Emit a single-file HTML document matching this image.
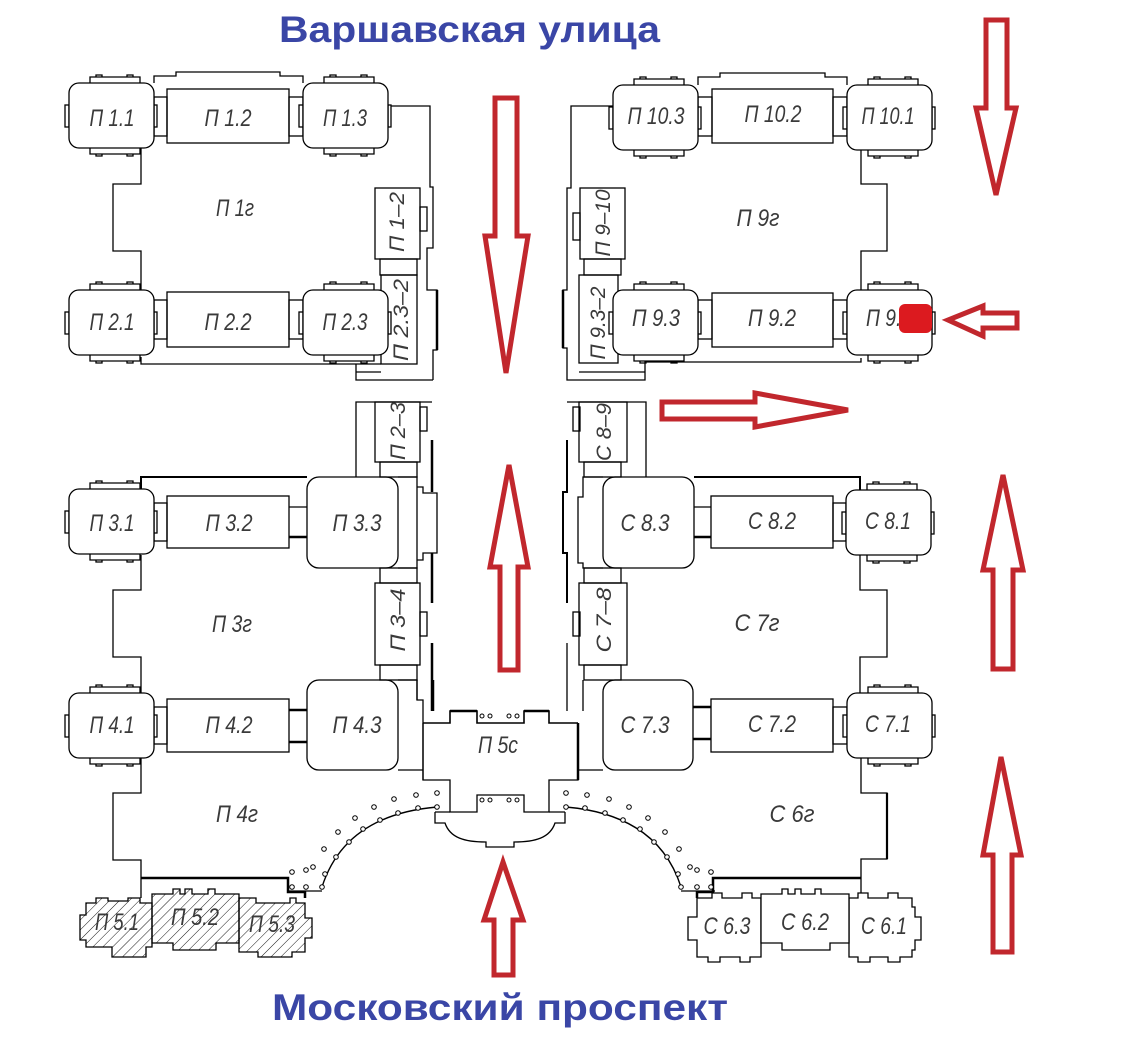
<!DOCTYPE html>
<html><head><meta charset="utf-8">
<style>
html,body{margin:0;padding:0;background:#fff;}
svg{display:block;}
.l{font-family:"Liberation Sans",sans-serif;font-style:italic;font-size:24px;fill:#3a3a3a;}
.r{font-family:"Liberation Sans",sans-serif;font-style:italic;font-size:21px;fill:#3a3a3a;}
.t{font-family:"Liberation Sans","Noto Sans CJK SC",sans-serif;font-weight:bold;fill:#3a46a6;}
</style></head><body>
<svg width="1139" height="1059" viewBox="0 0 1139 1059" xmlns="http://www.w3.org/2000/svg">
<defs>
<pattern id="hatch" width="7" height="7" patternUnits="userSpaceOnUse" patternTransform="rotate(45)">
 <line x1="0" y1="0" x2="0" y2="7" stroke="#000" stroke-width="0.9"/>
</pattern>
<g id="cb" fill="#fff" stroke="#000" stroke-width="1.3">
 <path d="M21,0 V-6 H71 V0" fill="none"/>
 <path d="M27,-6 V-8 H33 V-6 M58,-6 V-8 H64 V-6" fill="none"/>
 <path d="M21,65 V71 H71 V65" fill="none"/>
 <path d="M27,71 V73 H33 V71 M58,71 V73 H64 V71" fill="none"/>
 <rect x="-4" y="22" width="4" height="22"/>
 <rect x="85" y="22" width="3" height="22"/>
 <rect x="0" y="0" width="85" height="65" rx="10"/>
</g>
<g id="arcL" fill="none" stroke="#000" stroke-width="1">
 <path d="M322,887 Q345,815 437,807" stroke-width="1.4"/>
 <path d="M288,891 H322" stroke-width="1.2"/>
 <g fill="#fff">
  <circle cx="322" cy="887" r="2.3"/><circle cx="325" cy="874" r="2.3"/><circle cx="336" cy="857" r="2.3"/>
  <circle cx="349" cy="842" r="2.3"/><circle cx="363" cy="829" r="2.3"/><circle cx="380" cy="820" r="2.3"/>
  <circle cx="398" cy="813" r="2.3"/><circle cx="418" cy="808" r="2.3"/><circle cx="437" cy="807" r="2.3"/>
  <circle cx="292" cy="872" r="2.3"/><circle cx="306" cy="870" r="2.3"/><circle cx="313" cy="867" r="2.3"/>
  <circle cx="324" cy="849" r="2.3"/><circle cx="338" cy="832" r="2.3"/><circle cx="355" cy="818" r="2.3"/>
  <circle cx="374" cy="807" r="2.3"/><circle cx="394" cy="799" r="2.3"/><circle cx="416" cy="795" r="2.3"/>
  <circle cx="437" cy="793" r="2.3"/>
  <circle cx="292" cy="887" r="2.3"/><circle cx="306" cy="887" r="2.3"/>
 </g>
</g>
</defs>

<!-- ===== titles ===== -->
<text class="t" x="279" y="42" font-size="37" textLength="381" lengthAdjust="spacingAndGlyphs">Варшавская улица</text>
<text class="t" x="272" y="1020" font-size="37" textLength="456" lengthAdjust="spacingAndGlyphs">Московский проспект</text>

<g fill="none" stroke="#000" stroke-width="1.3">
<!-- ===== LEFT TOP BLOCK ===== -->
<path d="M154,83 V76 H176 V72 H280 V76 H303 V83"/>
<rect x="154" y="97" width="13" height="39"/>
<rect x="289" y="97" width="14" height="39"/>
<rect x="167" y="89" width="122" height="54"/>
<path d="M387,106 H430 V187 H433 V248 H427 V290 H437 V350 H433 V380"/>
<path d="M437,290 V350" stroke-width="2.5"/>
<rect x="375" y="188" width="45" height="71"/>
<rect x="420" y="207" width="7" height="24"/>
<rect x="380" y="259" width="37" height="16"/>
<rect x="381" y="275" width="36" height="89"/>
<path d="M141,357 V364 H381"/>
<path d="M356,364 V380 H433 M356,372 H381"/>
<path d="M141,148 V184 H113 V251 H141 V290"/>
<rect x="154" y="300" width="13" height="39"/>
<rect x="289" y="300" width="14" height="39"/>
<rect x="167" y="292" width="122" height="55"/>

<!-- ===== LEFT MIDDLE BLOCK ===== -->
<path d="M356,477 V402 H432"/>
<path d="M432,440 V492 M432,553 V603 M432,643 V711" stroke-width="2.5"/>
<rect x="420" y="407" width="7" height="24"/>
<rect x="375" y="402" width="45" height="60"/>
<rect x="380" y="462" width="37" height="15"/>
<path d="M141,489 V477 H307" stroke-width="2"/>
<rect x="154" y="503" width="13" height="38"/>
<path d="M289,507 H307 M289,537 H307" />
<path d="M289,537 H307" stroke-width="2.5"/>
<rect x="167" y="496" width="122" height="52"/>
<rect x="307" y="477" width="91" height="91" rx="12"/>
<path d="M398,477 H417 V568 H398"/>
<path d="M417,487 H423 V493 H437 V553 H423 V560 H417"/>
<rect x="380" y="568" width="37" height="15"/>
<rect x="375" y="583" width="45" height="82"/>
<rect x="420" y="612" width="7" height="24"/>
<rect x="380" y="665" width="37" height="15"/>
<path d="M141,555 V590 H113 V657 H141 V693"/>
<rect x="154" y="707" width="13" height="37"/>
<path d="M289,710 H307 M289,742 H307" stroke-width="2.5"/>
<rect x="167" y="699" width="122" height="53"/>
<rect x="307" y="680" width="91" height="90" rx="12"/>
<path d="M398,680 H417 V700 H423 V780 M398,770 H423"/>
<path d="M141,758 V793 H113 V860 H141 V898"/>
<path d="M141,878 H288 V892 H305 V898" stroke-width="2.5"/>

<!-- ===== CENTER П5с ===== -->
<path d="M433,680 V711" stroke-width="2.5"/>
<path d="M567,680 V711 M583,680 V711 M417,680 V700"/>
<path d="M423,723 H450 V711 H477 V723 H524 V711 H549 V723 H578" stroke-width="1.6"/>
<path d="M450,711 H477 M524,711 H549" stroke-width="2.5"/>
<path d="M423,723 V780 H450 V812 H477 V795 H524 V812 H549 V780 H578 V723"/>
<path d="M578,723 V780" stroke-width="2.5"/>
<path d="M578,770 H603"/>
<path d="M435,812 H450 M549,812 H565"/>
<path d="M435,812 V823 H445 C450,838 465,842 486,842 V847 H514 V842 C535,842 550,838 555,823 H565 V812"/>
<g fill="#fff" stroke-width="1">
 <circle cx="482" cy="716" r="2"/><circle cx="490" cy="716" r="2"/><circle cx="509" cy="716" r="2"/><circle cx="517" cy="716" r="2"/>
 <circle cx="482" cy="800" r="2"/><circle cx="490" cy="800" r="2"/><circle cx="509" cy="800" r="2"/><circle cx="517" cy="800" r="2"/>
</g>

<!-- ===== RIGHT TOP BLOCK ===== -->
<path d="M698,85 V77 H720 V73 H825 V77 H847 V85"/>
<rect x="698" y="97" width="14" height="39"/>
<rect x="833" y="97" width="14" height="39"/>
<rect x="712" y="89" width="121" height="54"/>
<path d="M613,106 H571 V188 H567 V290 H563 V348 H567 V380 H645 V362 H861 V358"/>
<path d="M563,290 V348" stroke-width="2.5"/>
<rect x="573" y="213" width="7" height="27"/>
<rect x="580" y="188" width="45" height="71"/>
<rect x="584" y="259" width="37" height="16"/>
<rect x="579" y="275" width="39" height="88"/>
<path d="M579,372 H645"/>
<path d="M861,149 V184 H887 V251 H861 V290"/>
<rect x="698" y="300" width="14" height="39"/>
<rect x="833" y="300" width="14" height="39"/>
<rect x="712" y="293" width="121" height="54"/>

<!-- ===== RIGHT MIDDLE BLOCK ===== -->
<path d="M567,402 H646 V477"/>
<rect x="573" y="407" width="7" height="24"/>
<rect x="579" y="402" width="48" height="60"/>
<rect x="584" y="462" width="37" height="15"/>
<path d="M567,440 V492 H563 V553 H567 V603" stroke-width="2"/>
<path d="M603,477 H583 V497 H578 V563 H583 V568 H603"/>
<rect x="603" y="477" width="91" height="91" rx="12"/>
<path d="M694,507 H711 M694,537 H711"/>
<path d="M694,537 H711" stroke-width="2.5"/>
<rect x="711" y="496" width="122" height="52"/>
<rect x="833" y="503" width="13" height="38"/>
<path d="M694,477 H860 V490" stroke-width="2"/>
<rect x="584" y="568" width="37" height="15"/>
<rect x="579" y="583" width="48" height="82"/>
<rect x="573" y="612" width="7" height="24"/>
<rect x="584" y="665" width="37" height="15"/>
<path d="M567,643 V680"/>
<path d="M860,555 V590 H887 V657 H860 V693"/>
<rect x="603" y="680" width="90" height="90" rx="12"/>
<path d="M693,707 H711 M693,739 H711" stroke-width="2.5"/>
<rect x="711" y="699" width="122" height="53"/>
<rect x="833" y="707" width="14" height="37"/>
<path d="M861,757 V793 H887 V859 H861 V898"/>
<path d="M887,793 V859" stroke-width="2.2"/>
<path d="M861,878 H713 V892 H697 V898" stroke-width="2.5"/>
</g>

<!-- corner buildings -->
<use href="#cb" x="69" y="83"/>
<use href="#cb" x="303" y="83"/>
<use href="#cb" x="69" y="290"/>
<use href="#cb" x="303" y="290"/>
<use href="#cb" x="69" y="489"/>
<use href="#cb" x="69" y="693"/>
<use href="#cb" x="613" y="85"/>
<use href="#cb" x="847" y="85"/>
<use href="#cb" x="613" y="290"/>
<use href="#cb" x="847" y="290"/>
<use href="#cb" x="846" y="490"/>
<use href="#cb" x="847" y="693"/>

<!-- arcs of dots -->
<use href="#arcL"/>
<use href="#arcL" transform="translate(1003,0) scale(-1,1)"/>

<!-- hatched П5 buildings -->
<g stroke="#000" stroke-width="1.3" fill="url(#hatch)">
 <path d="M86,903 H96 V898 H108 V901 H128 V898 H140 V903 H152 V947 H146 V957 H112 V947 H86 V940 H80 V915 H86 Z"/>
 <path d="M239,898 H256 V903 H290 V898 H296 V903 H305 V918 H312 V938 H305 V952 H292 V957 H258 V952 H239 Z"/>
 <path d="M152,894 H173 V889 H180 V894 H185 V889 H192 V894 H208 V889 H215 V894 H239 V943 H216 V950 H173 V943 H152 Z"/>
</g>

<!-- С6 buildings -->
<g stroke="#000" stroke-width="1.3" fill="#fff">
 <path d="M697,898 H712 V893 H722 V898 H742 V893 H752 V898 H761 V957 H750 V962 H740 V957 H720 V962 H708 V957 H697 V940 H688 V917 H697 Z"/>
 <path d="M849,898 H858 V893 H868 V898 H888 V893 H898 V898 H912 V907 H915 V917 H921 V940 H915 V950 H912 V957 H900 V962 H888 V957 H870 V962 H858 V957 H849 Z"/>
 <path d="M761,894 H782 V889 H788 V894 H795 V889 H801 V894 H815 V889 H821 V894 H849 V943 H830 V950 H782 V943 H761 Z"/>
</g>

<!-- ===== labels ===== -->
<g class="l" text-anchor="middle">
<text x="112" y="126" textLength="45" lengthAdjust="spacingAndGlyphs">П 1.1</text>
<text x="228" y="126" textLength="47" lengthAdjust="spacingAndGlyphs">П 1.2</text>
<text x="345" y="126" textLength="44" lengthAdjust="spacingAndGlyphs">П 1.3</text>
<text x="235" y="216" textLength="38" lengthAdjust="spacingAndGlyphs">П 1г</text>
<text x="112" y="330" textLength="45" lengthAdjust="spacingAndGlyphs">П 2.1</text>
<text x="228" y="330" textLength="47" lengthAdjust="spacingAndGlyphs">П 2.2</text>
<text x="345" y="330" textLength="45" lengthAdjust="spacingAndGlyphs">П 2.3</text>
<text x="112" y="531" textLength="45" lengthAdjust="spacingAndGlyphs">П 3.1</text>
<text x="229" y="531" textLength="47" lengthAdjust="spacingAndGlyphs">П 3.2</text>
<text x="357" y="531" textLength="49" lengthAdjust="spacingAndGlyphs">П 3.3</text>
<text x="232" y="632" textLength="40" lengthAdjust="spacingAndGlyphs">П 3г</text>
<text x="112" y="733" textLength="45" lengthAdjust="spacingAndGlyphs">П 4.1</text>
<text x="229" y="733" textLength="47" lengthAdjust="spacingAndGlyphs">П 4.2</text>
<text x="357" y="733" textLength="49" lengthAdjust="spacingAndGlyphs">П 4.3</text>
<text x="237" y="822" textLength="42" lengthAdjust="spacingAndGlyphs">П 4г</text>
<text x="498" y="753" textLength="40" lengthAdjust="spacingAndGlyphs">П 5с</text>
<text x="117" y="930" textLength="44" lengthAdjust="spacingAndGlyphs">П 5.1</text>
<text x="195" y="925" textLength="48" lengthAdjust="spacingAndGlyphs">П 5.2</text>
<text x="272" y="932" textLength="46" lengthAdjust="spacingAndGlyphs">П 5.3</text>
<text x="656" y="124" textLength="57" lengthAdjust="spacingAndGlyphs">П 10.3</text>
<text x="773" y="122" textLength="57" lengthAdjust="spacingAndGlyphs">П 10.2</text>
<text x="888" y="124" textLength="53" lengthAdjust="spacingAndGlyphs">П 10.1</text>
<text x="758" y="226" textLength="43" lengthAdjust="spacingAndGlyphs">П 9г</text>
<text x="656" y="326" textLength="48" lengthAdjust="spacingAndGlyphs">П 9.3</text>
<text x="772" y="326" textLength="48" lengthAdjust="spacingAndGlyphs">П 9.2</text>
<text x="889" y="326" textLength="46" lengthAdjust="spacingAndGlyphs">П 9.1</text>
<text x="645" y="531" textLength="49" lengthAdjust="spacingAndGlyphs">С 8.3</text>
<text x="772" y="529" textLength="48" lengthAdjust="spacingAndGlyphs">С 8.2</text>
<text x="888" y="529" textLength="46" lengthAdjust="spacingAndGlyphs">С 8.1</text>
<text x="757" y="631" textLength="45" lengthAdjust="spacingAndGlyphs">С 7г</text>
<text x="645" y="733" textLength="49" lengthAdjust="spacingAndGlyphs">С 7.3</text>
<text x="772" y="732" textLength="48" lengthAdjust="spacingAndGlyphs">С 7.2</text>
<text x="888" y="732" textLength="46" lengthAdjust="spacingAndGlyphs">С 7.1</text>
<text x="792" y="822" textLength="45" lengthAdjust="spacingAndGlyphs">С 6г</text>
<text x="727" y="934" textLength="47" lengthAdjust="spacingAndGlyphs">С 6.3</text>
<text x="805" y="930" textLength="48" lengthAdjust="spacingAndGlyphs">С 6.2</text>
<text x="884" y="934" textLength="46" lengthAdjust="spacingAndGlyphs">С 6.1</text>
</g>
<g class="r" text-anchor="middle">
<text x="396" y="230" transform="rotate(-90 396 222)" textLength="60" lengthAdjust="spacingAndGlyphs">П 1–2</text>
<text x="400" y="328" transform="rotate(-90 400 320)" textLength="82" lengthAdjust="spacingAndGlyphs">П 2.3–2</text>
<text x="397" y="439" transform="rotate(-90 397 431)" textLength="58" lengthAdjust="spacingAndGlyphs">П 2–3</text>
<text x="397" y="628" transform="rotate(-90 397 620)" textLength="63" lengthAdjust="spacingAndGlyphs">П 3–4</text>
<text x="602" y="231" transform="rotate(-90 602 223)" textLength="67" lengthAdjust="spacingAndGlyphs">П 9–10</text>
<text x="597" y="331" transform="rotate(-90 597 323)" textLength="73" lengthAdjust="spacingAndGlyphs">П 9.3–2</text>
<text x="603" y="440" transform="rotate(-90 603 432)" textLength="58" lengthAdjust="spacingAndGlyphs">С 8–9</text>
<text x="603" y="628" transform="rotate(-90 603 620)" textLength="65" lengthAdjust="spacingAndGlyphs">С 7–8</text>
</g>

<!-- red square -->
<rect x="899" y="304" width="33" height="29" rx="6" fill="#dc1a1f"/>

<!-- ===== red arrows ===== -->
<g fill="none" stroke="#c1272d" stroke-width="5" stroke-linejoin="miter">
 <polygon points="495,98 517,98 517,236 528,236 506,373 485,236 495,236"/>
 <polygon points="986,20 1007,20 1007,108 1016,108 996,195 976,108 986,108"/>
 <polygon points="1017,313 983,313 983,306 948,320 983,336 983,328 1017,328"/>
 <polygon points="662,402 755,402 755,393 848,410 755,427 755,419 662,419"/>
 <polygon points="509,465 528,567 518,567 518,670 500,670 500,567 490,567"/>
 <polygon points="503,862 523,920 513,920 513,975 494,975 494,920 484,920"/>
 <polygon points="1003,475 1023,570 1013,570 1013,669 993,669 993,570 983,570"/>
 <polygon points="1001,757 1021,855 1012,855 1012,952 993,952 993,855 983,855"/>
</g>
</svg>
</body></html>
